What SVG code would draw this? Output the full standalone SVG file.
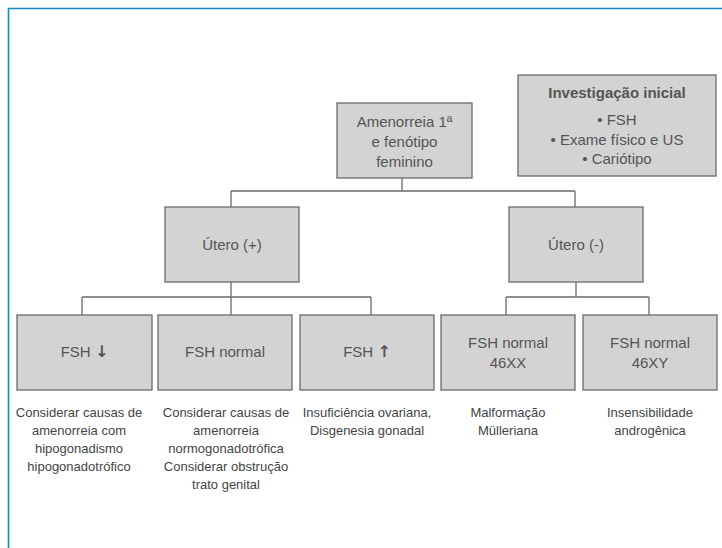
<svg xmlns="http://www.w3.org/2000/svg" width="722" height="548" viewBox="0 0 722 548">
<style>
.box{fill:#d3d3d3;stroke:#6b6b6b;stroke-width:1.3}
.lbl{font-family:"Liberation Sans",Arial,sans-serif;font-size:15px;fill:#555;text-anchor:middle}
.b{font-weight:bold}
.arr{font-family:"DejaVu Sans",sans-serif;font-size:16px;font-weight:bold}
.cap{font-family:"Liberation Sans",Arial,sans-serif;font-size:13px;fill:#444;text-anchor:middle}
.con{fill:none;stroke:#6b6b6b;stroke-width:1.3}
</style>
<rect x="0" y="0" width="722" height="548" fill="#fff"/>
<path d="M8.5,548 V8.5 H722" fill="none" stroke="#0a8cc4" stroke-width="1.6"/>
<g id="connectors">
<path class="con" d="M402,178 V191 M231,191 H575 M231,191 V207 M575,191 V207"/>
<path class="con" d="M231,282 V315 M82,297 H371 M82,297 V315 M371,297 V315"/>
<path class="con" d="M576,282 V297 M506,297 H649 M506,297 V315 M649,297 V315"/>
</g>
<g id="n-amenorreia">
<rect class="box" x="337" y="103" width="135" height="75"/>
<text class="lbl" x="404.5" y="127">Amenorreia 1ª</text>
<text class="lbl" x="404.5" y="147">e fenótipo</text>
<text class="lbl" x="404.5" y="167">feminino</text>
</g>
<g id="n-investigacao">
<rect class="box" x="518" y="75" width="198" height="101"/>
<text class="lbl b" x="617" y="98">Investigação inicial</text>
<text class="lbl" x="617" y="125">• FSH</text>
<text class="lbl" x="617" y="145">• Exame físico e US</text>
<text class="lbl" x="617" y="164">• Cariótipo</text>
</g>
<g id="n-utero-pos">
<rect class="box" x="165" y="207" width="134" height="75"/>
<text class="lbl" x="232" y="250">Útero (+)</text>
</g>
<g id="n-utero-neg">
<rect class="box" x="509" y="207" width="134" height="75"/>
<text class="lbl" x="576" y="250">Útero (-)</text>
</g>
<g id="n-fsh-low">
<rect class="box" x="17" y="315" width="135" height="75"/>
<text class="lbl" x="84.5" y="357">FSH <tspan class="arr">↓</tspan></text>
</g>
<g id="n-fsh-normal">
<rect class="box" x="158" y="315" width="134" height="75"/>
<text class="lbl" x="225" y="357">FSH normal</text>
</g>
<g id="n-fsh-high">
<rect class="box" x="300" y="315" width="134" height="75"/>
<text class="lbl" x="367" y="357">FSH <tspan class="arr">↑</tspan></text>
</g>
<g id="n-fsh-46xx">
<rect class="box" x="441" y="315" width="134" height="75"/>
<text class="lbl" x="508" y="348">FSH normal</text>
<text class="lbl" x="508" y="368">46XX</text>
</g>
<g id="n-fsh-46xy">
<rect class="box" x="583" y="315" width="134" height="75"/>
<text class="lbl" x="650" y="348">FSH normal</text>
<text class="lbl" x="650" y="368">46XY</text>
</g>
<g id="captions">
<text class="cap" x="79" y="417">Considerar causas de</text>
<text class="cap" x="79" y="435">amenorreia com</text>
<text class="cap" x="79" y="453">hipogonadismo</text>
<text class="cap" x="79" y="471">hipogonadotrófico</text>
<text class="cap" x="226" y="417">Considerar causas de</text>
<text class="cap" x="226" y="435">amenorreia</text>
<text class="cap" x="226" y="453">normogonadotrófica</text>
<text class="cap" x="226" y="471">Considerar obstrução</text>
<text class="cap" x="226" y="489">trato genital</text>
<text class="cap" x="367" y="417">Insuficiência ovariana,</text>
<text class="cap" x="367" y="435">Disgenesia gonadal</text>
<text class="cap" x="508" y="417">Malformação</text>
<text class="cap" x="508" y="435">Mülleriana</text>
<text class="cap" x="650" y="417">Insensibilidade</text>
<text class="cap" x="650" y="435">androgênica</text>
</g>
</svg>
